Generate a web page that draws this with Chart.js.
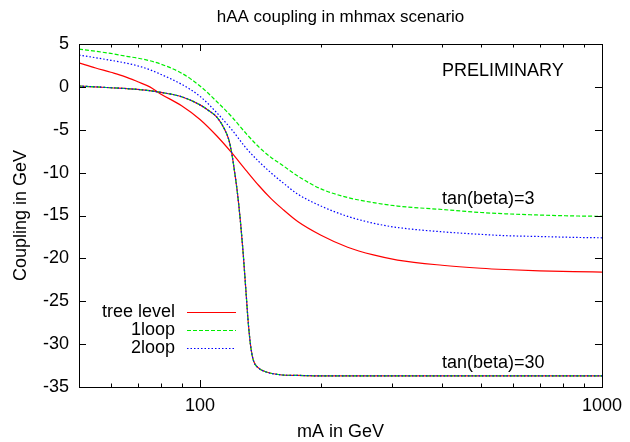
<!DOCTYPE html>
<html>
<head>
<meta charset="utf-8">
<script src="https://cdn.jsdelivr.net/npm/chart.js@4.4.1/dist/chart.umd.min.js"></script>
<style>
  html, body { margin: 0; padding: 0; background: #fff; }
  canvas { display: block; }
</style>
</head>
<body>
<canvas id="c" width="630" height="442"></canvas>
<script>
// ---- data ----
const mA_tan3 = [50, 55, 60, 65, 70, 75, 80, 90, 100, 110, 120, 130, 140, 150, 160, 175, 200, 233, 270, 310, 400, 500, 575, 700, 850, 1000];
const tree_tan3  = [2.8, 2.2, 1.7, 1.2, 0.6, 0.0, -0.85, -2.2, -3.8, -5.7, -7.7, -9.7, -11.5, -13.0, -14.2, -15.7, -17.3, -18.7, -19.6, -20.2, -20.8, -21.15, -21.3, -21.45, -21.55, -21.6];
const loop1_tan3 = [4.4, 4.15, 3.9, 3.6, 3.35, 3.05, 2.65, 1.6, 0.1, -1.7, -3.5, -5.4, -7.0, -8.2, -9.1, -10.4, -11.9, -12.9, -13.5, -13.9, -14.3, -14.65, -14.8, -14.95, -15.05, -15.1];
const loop2_tan3 = [3.7, 3.4, 3.1, 2.8, 2.45, 2.0, 1.45, 0.3, -1.1, -3.0, -5.0, -7.1, -8.7, -10.0, -11.1, -12.5, -13.9, -15.1, -15.9, -16.4, -16.9, -17.2, -17.35, -17.45, -17.55, -17.6];

const mA_tan30 = [50, 60, 70, 80, 90, 100, 105, 110, 115, 118, 120, 122, 124, 126, 128, 130, 132, 134, 136, 140, 145, 150, 160, 175, 200, 300, 500, 1000];
const tree_tan30  = [0.1, -0.1, -0.3, -0.65, -1.15, -2.1, -2.75, -3.5, -4.9, -6.2, -7.8, -10.0, -12.5, -15.6, -19.3, -23.6, -27.8, -30.6, -32.0, -32.8, -33.2, -33.4, -33.6, -33.65, -33.7, -33.7, -33.7, -33.7];
const loop1_tan30 = [0.1, -0.1, -0.3, -0.65, -1.15, -2.1, -2.75, -3.5, -4.9, -6.2, -7.8, -10.0, -12.5, -15.6, -19.3, -23.6, -27.8, -30.6, -32.0, -32.8, -33.2, -33.4, -33.6, -33.65, -33.7, -33.7, -33.7, -33.7];
const loop2_tan30 = [0.1, -0.1, -0.3, -0.65, -1.15, -2.1, -2.75, -3.5, -4.9, -6.2, -7.8, -10.0, -12.5, -15.6, -19.3, -23.6, -27.8, -30.6, -32.0, -32.8, -33.2, -33.4, -33.6, -33.65, -33.7, -33.7, -33.7, -33.7];

const seriesNames = ['tree level', '1loop', '2loop'];
const xLabelTicks = [100, 1000];
const xMinorTicks = [60, 70, 80, 90, 200, 300, 400, 500, 600, 700, 800, 900];
const yTicks = [-35, -30, -25, -20, -15, -10, -5, 0, 5];
const notes = [
  { text: 'PRELIMINARY', x: 400, y: 1.85 },
  { text: 'tan(beta)=3', x: 400, y: -13.1 },
  { text: 'tan(beta)=30', x: 400, y: -32.2 }
];

// ---- styles ----
const FONT = '"Liberation Sans", Arial, Helvetica, sans-serif';
const styles = [
  { color: '#ff0000', dash: [], order: 3 },
  { color: '#00ee00', dash: [4, 2], order: 2 },
  { color: '#0000ff', dash: [1.5, 2], order: 1 }
];

function pts(xs, ys) { return xs.map((x, i) => ({ x: x, y: ys[i] })); }
function ds(label, xs, ys, s) {
  return {
    label: label, data: pts(xs, ys),
    borderColor: s.color, borderWidth: 1.2, borderDash: s.dash,
    pointRadius: 0, fill: false, cubicInterpolationMode: 'monotone',
    order: s.order
  };
}

const datasets = [
  ds(seriesNames[0], mA_tan3, tree_tan3, styles[0]),
  ds(seriesNames[1], mA_tan3, loop1_tan3, styles[1]),
  ds(seriesNames[2], mA_tan3, loop2_tan3, styles[2]),
  ds(seriesNames[0], mA_tan30, tree_tan30, styles[0]),
  ds(seriesNames[1], mA_tan30, loop1_tan30, styles[1]),
  ds(seriesNames[2], mA_tan30, loop2_tan30, styles[2])
];

const gnuFrame = {
  id: 'gnuFrame',
  afterDatasetsDraw(chart) {
    const { ctx, chartArea, scales } = chart;
    const { left, right, top, bottom } = chartArea;
    const x = scales.x, y = scales.y;
    const MAJ = 7, MIN = 3.5;
    ctx.save();
    ctx.strokeStyle = '#000';
    ctx.lineWidth = 1;
    ctx.setLineDash([]);
    ctx.beginPath();
    yTicks.forEach(v => {
      const py = Math.round(y.getPixelForValue(v)) + 0.5;
      ctx.moveTo(left, py); ctx.lineTo(left + MAJ, py);
      ctx.moveTo(right, py); ctx.lineTo(right - MAJ, py);
    });
    xLabelTicks.forEach(v => {
      const px = Math.round(x.getPixelForValue(v)) + 0.5;
      ctx.moveTo(px, bottom); ctx.lineTo(px, bottom - MAJ);
      ctx.moveTo(px, top); ctx.lineTo(px, top + MAJ);
    });
    xMinorTicks.forEach(v => {
      const px = Math.round(x.getPixelForValue(v)) + 0.5;
      ctx.moveTo(px, bottom); ctx.lineTo(px, bottom - MIN);
      ctx.moveTo(px, top); ctx.lineTo(px, top + MIN);
    });
    ctx.stroke();
    ctx.strokeRect(Math.round(left) + 0.5, Math.round(top) + 0.5, Math.round(right - left), Math.round(bottom - top));

    // legend (inside plot, bottom-left, text right-aligned with sample to the right)
    ctx.font = '18px ' + FONT;
    ctx.fillStyle = '#000';
    ctx.textAlign = 'right';
    ctx.textBaseline = 'middle';
    seriesNames.forEach((name, i) => {
      const ly = top + 268 + i * 18;
      ctx.fillText(name, left + 96, ly);
      ctx.beginPath();
      ctx.strokeStyle = styles[i].color;
      ctx.lineWidth = 1.2;
      ctx.setLineDash(styles[i].dash);
      ctx.moveTo(left + 108, Math.round(ly) + 0.5);
      ctx.lineTo(left + 157, Math.round(ly) + 0.5);
      ctx.stroke();
    });
    ctx.setLineDash([]);

    // annotations
    ctx.textAlign = 'left';
    ctx.fillStyle = '#000';
    notes.forEach(n => {
      ctx.fillText(n.text, x.getPixelForValue(n.x), y.getPixelForValue(n.y));
    });
    ctx.restore();
  }
};

new Chart(document.getElementById('c'), {
  type: 'line',
  data: { datasets: datasets },
  options: {
    responsive: false,
    animation: false,
    devicePixelRatio: 1,
    layout: { padding: { top: 0, right: 24, bottom: 0, left: 0 } },
    plugins: {
      legend: { display: false },
      tooltip: { enabled: false },
      title: {
        display: true,
        text: 'hAA coupling in mhmax scenario',
        fullSize: false,
        color: '#000',
        font: { family: FONT, size: 17, weight: 'normal', lineHeight: 1.2 },
        padding: { top: 7, bottom: 16.6 }
      }
    },
    scales: {
      x: {
        type: 'logarithmic',
        min: 50, max: 1000,
        grid: { display: false, drawTicks: false },
        border: { display: false },
        afterBuildTicks: s => { s.ticks = xLabelTicks.map(v => ({ value: v })); },
        afterFit: s => { s.height = 55; },
        ticks: {
          color: '#000',
          font: { family: FONT, size: 18 },
          padding: 8,
          maxRotation: 0,
          autoSkip: false,
          callback: v => String(v)
        },
        title: {
          display: true, text: 'mA in GeV', color: '#000',
          font: { family: FONT, size: 18, lineHeight: 1.0 },
          padding: { top: 0, bottom: 1 }
        }
      },
      y: {
        min: -35, max: 5,
        grid: { display: false, drawTicks: false },
        border: { display: false },
        afterBuildTicks: s => { s.ticks = yTicks.map(v => ({ value: v })); },
        afterFit: s => { s.width = 79; },
        ticks: {
          color: '#000',
          font: { family: FONT, size: 18 },
          padding: 10,
          callback: v => String(v)
        },
        title: {
          display: true, text: 'Coupling in GeV', color: '#000',
          font: { family: FONT, size: 18, lineHeight: 1.2 },
          padding: { top: 10, bottom: 0 }
        }
      }
    }
  },
  plugins: [gnuFrame]
});
</script>
</body>
</html>
